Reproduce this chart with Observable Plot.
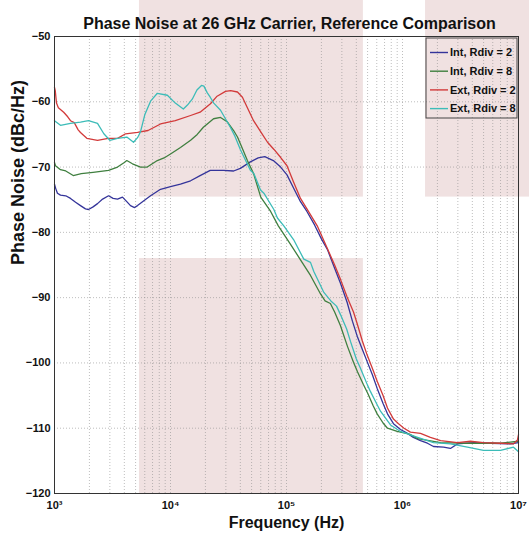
<!DOCTYPE html>
<html>
<head>
<meta charset="utf-8">
<script src="https://cdn.jsdelivr.net/npm/d3@7"></script>
<script src="https://cdn.jsdelivr.net/npm/@observablehq/plot@0.6"></script>
<style>
  html, body { margin: 0; padding: 0; background: #fff; }
  #chart svg { display: block; }
</style>
</head>
<body>
<div id="chart"></div>
<script>
// ---- data ----
const titleText = "Phase Noise at 26 GHz Carrier, Reference Comparison";
const xLabel = "Frequency (Hz)";
const yLabel = "Phase Noise (dBc/Hz)";
const seriesNames = ["Int, Rdiv = 2", "Int, Rdiv = 8", "Ext, Rdiv = 2", "Ext, Rdiv = 8"];
const seriesColors = ["#34349a", "#3f7f3f", "#d23a3a", "#3cbcb8"];
const xTicks = [1e3, 1e4, 1e5, 1e6, 1e7];
const yTicks = [-120, -110, -100, -90, -80, -70, -60, -50];

// [frequency Hz, dBc/Hz]
const intRdiv2 = [
  [1000,-72.6],[1025,-73.3],[1060,-74.0],[1126,-74.3],[1250,-74.4],[1374,-74.8],[1520,-75.4],[1675,-75.9],
  [1850,-76.4],[1964,-76.5],[2150,-76.1],[2349,-75.6],[2600,-74.9],[2924,-74.4],[3200,-74.8],[3494,-74.9],
  [3856,-74.6],[4200,-75.3],[4518,-75.9],[4900,-76.2],[5198,-75.9],[5851,-75.2],[6730,-74.4],[8204,-73.4],
  [10000,-73.0],[12190,-72.6],[14900,-72.1],[18000,-71.3],[22000,-70.5],[28600,-70.5],[35000,-70.6],[40000,-70.2],
  [48800,-69.2],[57000,-68.6],[65000,-68.4],[77000,-69.0],[89000,-70.0],[101000,-71.2],[115000,-73.2],[132000,-75.3],
  [150000,-76.8],[175000,-78.9],[200000,-81.0],[225000,-82.6],[260000,-85.5],[292000,-87.8],[333000,-90.7],[370000,-93.6],
  [407000,-95.9],[450000,-97.9],[496000,-99.8],[550000,-101.8],[605000,-103.9],[680000,-106.2],[742000,-107.8],[836000,-109.3],
  [961000,-110.2],[1105000,-110.8],[1240000,-111.4],[1430000,-111.9],[1640000,-112.3],[1850000,-112.8],[2260000,-112.9],
  [2590000,-113.1],[2980000,-112.4],[4090000,-112.2],[5740000,-112.3],[8530000,-112.4],[10000000,-112.2]
];
const intRdiv8 = [
  [1000,-69.3],[1020,-69.8],[1126,-70.4],[1250,-70.6],[1450,-71.3],[1700,-71.0],[2150,-70.8],[2924,-70.5],
  [3494,-70.0],[4000,-69.3],[4200,-69.0],[4700,-69.5],[5512,-70.0],[6300,-70.0],[7700,-69.0],[8800,-68.6],
  [10000,-68.0],[12190,-67.0],[14900,-65.9],[17000,-65.0],[19200,-63.9],[23500,-62.6],[27000,-62.4],[31000,-63.1],
  [35000,-64.4],[37800,-65.4],[42000,-67.3],[46000,-69.0],[52000,-71.0],[60000,-74.6],[73000,-76.8],[85000,-79.0],
  [108000,-81.8],[132000,-84.2],[161000,-86.6],[196000,-89.4],[215000,-90.5],[239000,-90.9],[260000,-92.2],[292000,-94.3],
  [336000,-97.5],[378000,-99.9],[410000,-101.4],[460000,-103.3],[500000,-104.6],[560000,-106.6],[605000,-107.8],[680000,-109.2],
  [742000,-110.0],[900000,-110.5],[1150000,-110.9],[1350000,-111.6],[2130000,-112.2],[3630000,-112.3],[7000000,-112.3],[10000000,-112.0]
];
const extRdiv2 = [
  [1000,-57.8],[1015,-58.3],[1040,-60.2],[1080,-60.9],[1200,-61.6],[1300,-62.3],[1374,-62.9],[1480,-63.2],
  [1600,-64.3],[1675,-64.7],[1900,-65.6],[2349,-65.9],[2900,-65.6],[3500,-65.6],[4100,-64.9],[5198,-64.7],
  [6400,-64.4],[8204,-63.4],[11000,-62.9],[14900,-62.1],[18000,-61.6],[22100,-60.3],[25000,-59.2],[29800,-58.4],
  [33000,-58.3],[37800,-58.5],[41700,-59.3],[46000,-60.9],[52000,-62.9],[60000,-64.6],[68600,-66.2],[78000,-67.3],
  [88800,-68.5],[101000,-69.8],[115000,-72.3],[132000,-74.8],[150000,-76.4],[184000,-79.0],[224000,-82.4],[260000,-85.0],
  [292000,-87.2],[333000,-89.9],[378000,-92.2],[407000,-94.0],[450000,-96.6],[496000,-98.8],[560000,-101.2],[605000,-102.8],
  [680000,-105.0],[742000,-106.9],[836000,-108.6],[924000,-109.3],[1030000,-110.0],[1170000,-110.6],[1430000,-110.8],
  [1740000,-111.4],[2130000,-111.9],[2980000,-112.2],[3850000,-112.0],[4990000,-112.2],[7000000,-112.3],[9060000,-112.4],
  [9800000,-111.8],[10000000,-111.0]
];
const extRdiv8 = [
  [1000,-62.9],[1126,-63.6],[1374,-63.3],[1675,-63.1],[1964,-62.9],[2349,-63.3],[2663,-64.9],[3000,-65.9],
  [3494,-65.6],[4200,-65.4],[4800,-66.2],[5200,-65.5],[5512,-64.6],[6000,-62.0],[6730,-59.9],[7700,-58.7],
  [9400,-59.0],[11000,-60.2],[12900,-61.1],[14000,-60.5],[15400,-59.6],[16900,-58.2],[18500,-57.5],[19400,-57.6],
  [20700,-58.6],[22000,-59.3],[23600,-60.2],[27000,-61.3],[32800,-63.9],[36000,-65.3],[40000,-67.3],[48800,-70.5],
  [52300,-71.0],[59700,-73.5],[63800,-74.0],[77800,-76.5],[83500,-77.8],[94800,-79.0],[115000,-81.1],[141000,-84.1],
  [161000,-84.6],[172000,-86.0],[210000,-89.2],[244000,-90.6],[270000,-91.3],[292000,-92.6],[330000,-94.8],[356000,-96.7],
  [400000,-99.4],[434000,-100.8],[499000,-103.4],[530000,-104.4],[600000,-106.3],[646000,-107.4],[788000,-109.5],[961000,-110.5],
  [1350000,-111.4],[1850000,-112.2],[2590000,-112.4],[3630000,-112.9],[4990000,-113.4],[7000000,-113.4],[9060000,-112.9],[10000000,-113.6]
];

// pinkish background bands seen in the reference image (x in Hz, y in dB)
const bandX1 = [5400, 5400, 1580000];
const bandX2 = [460000, 460000, 13000000];
const bandY1 = [-74.6, -120, -74.6];
const bandY2 = [-44.4, -84.0, -44.4];

// ---- build tables ----
const seriesData = [intRdiv2, intRdiv8, extRdiv2, extRdiv8];
const rows = seriesData.flatMap((arr, i) => arr.map(([f, v]) => ({f, v, s: seriesNames[i]})));
const bands = bandX1.map((x1, i) => ({x1, x2: bandX2[i], y1: bandY1[i], y2: bandY2[i]}));
const minorX = d3.range(3, 7).flatMap(k => d3.range(1, 10).map(m => m * Math.pow(10, k))).concat([1e7]);
const sup = {3: "\u00B3", 4: "\u2074", 5: "\u2075", 6: "\u2076", 7: "\u2077"};

function legendMark(index, scales, values, dims) {
  const W = dims && dims.width ? dims.width : 529;
  const mR = dims && dims.marginRight != null ? dims.marginRight : 11;
  const mT = dims && dims.marginTop != null ? dims.marginTop : 36;
  const right = W - mR;
  const x0 = right - 92, y0 = mT + 2;
  const g = d3.create("svg:g").attr("text-anchor", "start");
  g.append("rect").attr("x", x0).attr("y", y0).attr("width", 91).attr("height", 80)
    .attr("fill", "none").attr("stroke", "#444").attr("stroke-width", 1);
  seriesNames.forEach((name, i) => {
    const y = y0 + 14.5 + i * 18.7;
    g.append("line").attr("x1", x0 + 4).attr("x2", x0 + 22).attr("y1", y).attr("y2", y)
      .attr("stroke", seriesColors[i]).attr("stroke-width", 1.4);
    g.append("text").attr("x", x0 + 24).attr("y", y).attr("dy", "0.35em").attr("text-anchor", "start")
      .attr("font-size", 11).attr("font-weight", "bold").attr("fill", "#111").text(name);
  });
  return g.node();
}

const chart = Plot.plot({
  width: 529,
  height: 542,
  marginLeft: 54,
  marginRight: 11,
  marginTop: 36,
  marginBottom: 49,
  style: {fontFamily: "'Liberation Sans', Arial, sans-serif", fontSize: "11px", background: "transparent", color: "#111"},
  x: {type: "log", domain: [1e3, 1e7]},
  y: {domain: [-120, -50]},
  color: {domain: seriesNames, range: seriesColors},
  marks: [
    Plot.rect(bands, {x1: "x1", x2: "x2", y1: "y1", y2: "y2", fill: "#f0e1e1"}),
    Plot.ruleX(minorX, {stroke: "#8a8a8a", strokeDasharray: "1,2", strokeOpacity: 0.7, strokeWidth: 0.8}),
    Plot.ruleY(yTicks, {stroke: "#8a8a8a", strokeDasharray: "1,2", strokeOpacity: 0.7, strokeWidth: 0.8}),
    Plot.line(rows, {x: "f", y: "v", z: "s", stroke: "s", strokeWidth: 1.3}),
    Plot.frame({stroke: "#333", strokeWidth: 1}),
    Plot.axisY(yTicks, {tickSize: 0, tickPadding: 4, label: null, fontWeight: "bold", fontSize: 11}),
    Plot.axisX(xTicks, {tickSize: 0, tickPadding: 8, label: null, fontWeight: "bold", fontSize: 11,
      tickFormat: d => "10" + sup[Math.round(Math.log10(d))]}),
    Plot.text([titleText], {text: d => d, frameAnchor: "top", dy: -19, dx: 3, fontSize: 16, fontWeight: "bold", fill: "#111"}),
    Plot.text([xLabel], {text: d => d, frameAnchor: "bottom", dy: 34, fontSize: 16, fontWeight: "bold", fill: "#111"}),
    Plot.text([yLabel], {text: d => d, frameAnchor: "left", dx: -36, rotate: -90, fontSize: 18, fontWeight: "bold", fill: "#111"}),
    legendMark
  ]
});
document.getElementById("chart").appendChild(chart);
</script>
</body>
</html>
